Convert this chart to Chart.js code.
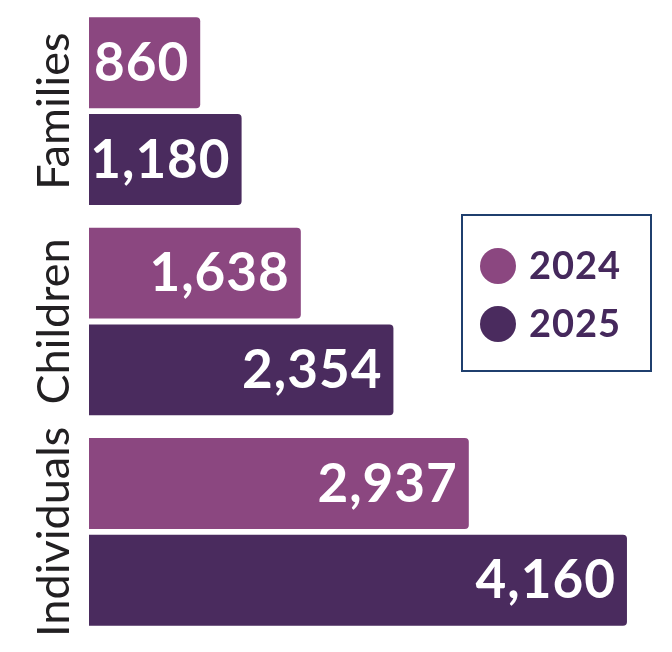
<!DOCTYPE html>
<html>
<head>
<meta charset="utf-8">
<script src="https://cdn.jsdelivr.net/npm/chart.js@4/dist/chart.umd.min.js"></script>
<style>
  html, body { margin: 0; padding: 0; background: #fff; }
  #wrap { width: 672px; height: 652px; position: relative; }
</style>
</head>
<body>
<div id="wrap"><canvas id="myChart"></canvas></div>
<script>
// chart data
const categories = ['Families', 'Children', 'Individuals'];
const years = ['2024', '2025'];
const values2024 = [860, 1638, 2937];
const values2025 = [1180, 2354, 4160];

const colors = ['#8B4780', '#4A2B5E'];

// draws category names rotated along the left side
const categoryLabels = {
    id: 'categoryLabels',
    afterDraw(chart) {
        const ctx = chart.ctx;
        const y = chart.scales.y;
        ctx.save();
        ctx.font = '45px Lato';
        ctx.fillStyle = '#222022';
        ctx.textAlign = 'center';
        ctx.textBaseline = 'middle';
        categories.forEach((name, i) => {
            ctx.save();
            ctx.translate(54, y.getPixelForValue(i));
            ctx.rotate(-Math.PI / 2);
            ctx.fillText(name, 0, 0);
            ctx.restore();
        });
        ctx.restore();
    }
};

// value labels inside the bar ends
const valueLabels = {
    id: 'valueLabels',
    afterDatasetsDraw(chart) {
        const ctx = chart.ctx;
        ctx.save();
        ctx.font = 'bold 53px Lato';
        ctx.fillStyle = '#ffffff';
        ctx.textAlign = 'right';
        ctx.textBaseline = 'middle';
        if ('letterSpacing' in ctx) ctx.letterSpacing = '1px';
        chart.data.datasets.forEach((ds, di) => {
            chart.getDatasetMeta(di).data.forEach((bar, i) => {
                ctx.fillText(ds.data[i].toLocaleString('en-US'), bar.x - 11, bar.y + 1);
            });
        });
        ctx.restore();
    }
};

// boxed legend inside the plot
const boxLegend = {
    id: 'boxLegend',
    afterDraw(chart) {
        const ctx = chart.ctx;
        ctx.save();
        ctx.strokeStyle = '#1F3F6E';
        ctx.lineWidth = 2;
        ctx.strokeRect(462, 215, 189, 156);
        ctx.font = 'bold 38px Lato';
        ctx.textBaseline = 'middle';
        ctx.textAlign = 'left';
        if ('letterSpacing' in ctx) ctx.letterSpacing = '1px';
        chart.data.datasets.forEach((ds, i) => {
            const cy = 266 + i * 58;
            ctx.beginPath();
            ctx.arc(498, cy, 18, 0, Math.PI * 2);
            ctx.fillStyle = ds.backgroundColor;
            ctx.fill();
            ctx.fillStyle = '#45285C';
            ctx.fillText(ds.label, 529, cy + 1);
        });
        ctx.restore();
    }
};

const ctx = document.getElementById('myChart').getContext('2d');
new Chart(ctx, {
    type: 'bar',
    data: {
        labels: categories,
        datasets: [
            { label: years[0], data: values2024, backgroundColor: colors[0] },
            { label: years[1], data: values2025, backgroundColor: colors[1] }
        ]
    },
    options: {
        indexAxis: 'y',
        responsive: true,
        maintainAspectRatio: false,
        animation: false,
        layout: { padding: { left: 89, right: 14, top: 6, bottom: 15 } },
        datasets: {
            bar: {
                categoryPercentage: 0.92,
                barPercentage: 0.94,
                borderRadius: 4
            }
        },
        scales: {
            x: { display: false, min: 0, max: 4400 },
            y: { display: false }
        },
        plugins: {
            legend: { display: false },
            tooltip: { enabled: false }
        }
    },
    plugins: [categoryLabels, valueLabels, boxLegend]
});
</script>
</body>
</html>
